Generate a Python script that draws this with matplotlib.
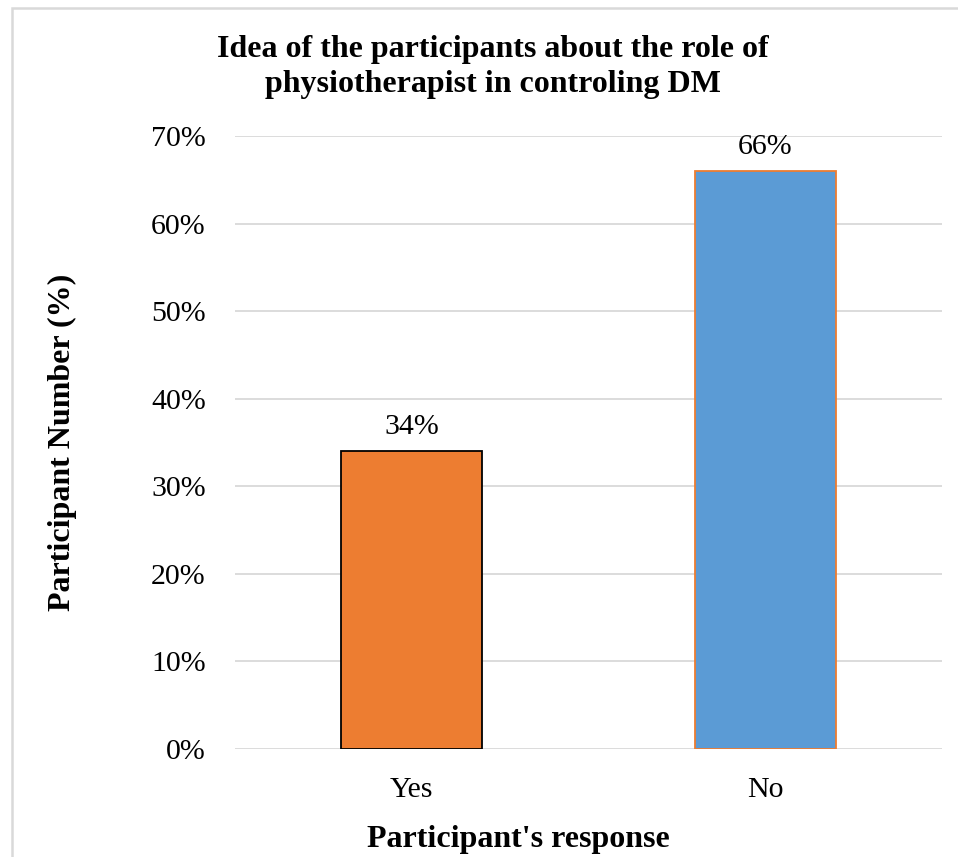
import matplotlib.pyplot as plt
from matplotlib.ticker import PercentFormatter
from matplotlib.patches import Rectangle

categories = ["Yes", "No"]
shares = [0.34, 0.66]
bar_labels = ["34%", "66%"]
y_ticks = [0.0, 0.1, 0.2, 0.3, 0.4, 0.5, 0.6, 0.7]

plt.rcParams["font.family"] = ["Liberation Serif", "DejaVu Serif"]

W, H = 958, 857
fig = plt.figure(figsize=(W / 100, H / 100), dpi=100)
ax = fig.add_axes([235 / W, 1 - 749 / H, 707 / W, (749 - 136) / H])

# chart-area frame (left and top edges only are inside the canvas)
fig.patches.append(Rectangle((11.5 / W, -0.1), 1.2, 1 - 7.5 / H + 0.1,
                             transform=fig.transFigure, fill=False,
                             edgecolor="#d9d9d9", linewidth=1.8))

x = range(len(categories))
bars = ax.bar(x, shares, width=0.4,
              color=["#ED7D31", "#5B9BD5"],
              edgecolor=["black", "#ED7D31"], linewidth=1.3, zorder=3)

for b, lab in zip(bars, bar_labels):
    ax.text(b.get_x() + b.get_width() / 2, b.get_height() + 0.013, lab,
            ha="center", va="bottom", fontsize=21.5)

ax.set_xlim(-0.5, 1.5)
ax.set_ylim(0, 0.7)
ax.set_yticks(y_ticks)
ax.yaxis.set_major_formatter(PercentFormatter(1.0, decimals=0))
ax.set_xticks(list(x))
ax.set_xticklabels(categories)
ax.tick_params(axis="both", length=0, labelsize=21.5)
ax.tick_params(axis="y", pad=21)
ax.tick_params(axis="x", pad=20)
ax.grid(axis="y", color="#d9d9d9", linewidth=1.3, zorder=0)
for s in ["top", "right", "left", "bottom"]:
    ax.spines[s].set_visible(False)

fig.text(62 / W, 1 - 442 / H, "Participant Number (%)", rotation=90,
         ha="center", va="center", fontsize=23, fontweight="bold")
fig.text(518 / W, 1 - 840 / H, "Participant's response",
         ha="center", va="center", fontsize=23, fontweight="bold")

fig.text(493 / W, 1 - 67 / H,
         "Idea of the participants about the role of\nphysiotherapist in controling DM",
         ha="center", va="center", fontsize=23, fontweight="bold", linespacing=1.28)

fig.savefig("out.png", dpi=100, facecolor="white")
